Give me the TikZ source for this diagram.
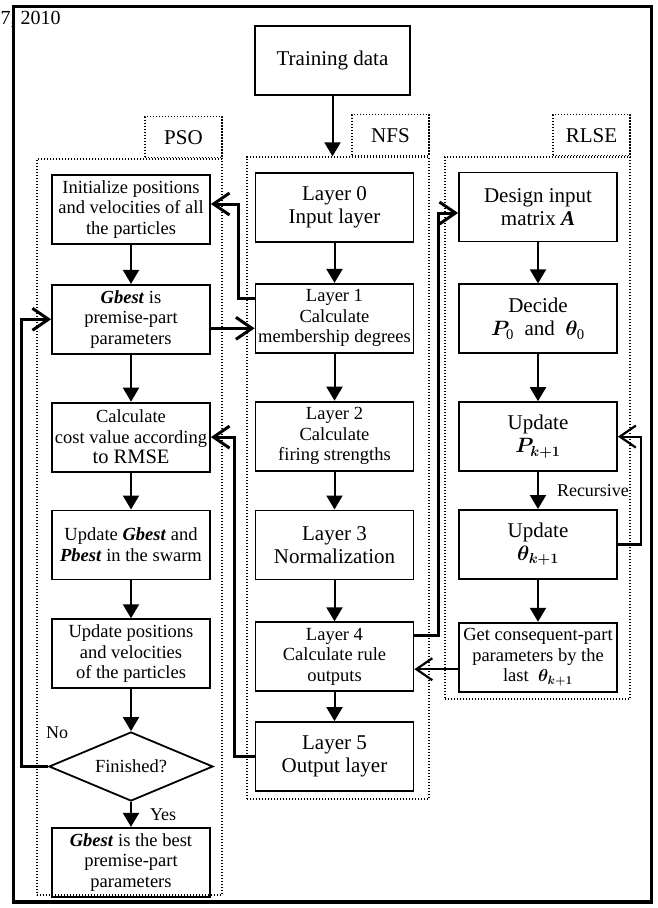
\documentclass[tikz,border=0pt]{standalone}
\usepackage{amsmath,bm}
\usepackage{fontspec}
\setmainfont{Liberation Serif}
\usepackage{tikz}
\usetikzlibrary{arrows.meta,positioning,shapes.geometric}

\begin{document}
\begin{tikzpicture}[
  x=1pt, y=-1pt,
  every node/.style={font=\fontsize{18.5}{20.5}\selectfont, align=center},
  box/.style={draw, line width=1.8pt, minimum width=158pt, minimum height=69pt, inner sep=2pt},
  bigbox/.style={box, font=\fontsize{21}{23}\selectfont},
  dec/.style={draw, diamond, aspect=2.4, line width=1.8pt, minimum width=164pt, minimum height=69pt, inner sep=0pt},
  grp/.style={draw, dash pattern=on 1.3pt off 1.7pt, line width=1.3pt, inner sep=0pt},
  tab/.style={grp, minimum width=77pt, minimum height=41pt, font=\fontsize{21}{23}\selectfont},
  lbl/.style={font=\fontsize{18}{20}\selectfont, inner sep=1pt},
  arr/.style={-{Triangle[length=14pt,width=16pt]}, line width=2pt},
  loopback/.style={-{Straight Barb[length=16pt,width=22pt]}, line width=3pt},
  thinback/.style={loopback, line width=2.2pt},
]
  \useasboundingbox (0,0) rectangle (657,908);
  \node[anchor=base west, inner sep=0pt, font=\fontsize{20}{22}\selectfont] (date) at (0.5,24) {7, 2010};
  \draw[line width=3.3pt] (13.5,6.5) rectangle (651.5,902);

  \node[bigbox, minimum width=155pt] (train) at (332.5,60.5) {Training data};

  % dotted groups with their tabs
  \node[grp, minimum width=185pt, minimum height=736pt] (psogrp) at (129.5,527) {};
  \node[tab, anchor=south east] (psotab) at (psogrp.north east) {PSO};
  \node[grp, minimum width=182pt, minimum height=642pt] (nfsgrp) at (338,478) {};
  \node[tab, anchor=south east] (nfstab) at (nfsgrp.north east) {NFS};
  \node[grp, minimum width=185pt, minimum height=542pt] (rlsegrp) at (537.5,428) {};
  \node[tab, anchor=south east] (rlsetab) at (rlsegrp.north east) {RLSE};

  % PSO
  \node[box] (init) at (131,209.5) {Initialize positions\\and velocities of all\\the particles};
  \node[box, below=39pt of init] (gbest) {\textbf{\textit{Gbest}} is\\premise-part\\parameters};
  \node[box, below=47pt of gbest] (cost) {Calculate\\cost value according\\{\fontsize{20.5}{22}\selectfont to RMSE}};
  \node[box, below=37pt of cost] (upd) {Update \textbf{\textit{Gbest}} and\\\textbf{\textit{Pbest}} in the swarm};
  \node[box, below=38pt of upd] (updpos) {Update positions\\and velocities\\of the particles};
  \node[dec, below=42pt of updpos] (fin) {Finished?};
  \node[box, below=25pt of fin] (best) {\textbf{\textit{Gbest}} is the best\\premise-part\\parameters};
  \node[lbl] (no) at ([xshift=9pt,yshift=34pt]fin.west) {No};

  % NFS
  \node[bigbox] (l0) at (334.5,207.5) {Layer 0\\Input layer};
  \node[box, below=40pt of l0] (l1) {Layer 1\\Calculate\\membership degrees};
  \node[box, below=47pt of l1] (l2) {Layer 2\\Calculate\\firing strengths};
  \node[bigbox, below=38pt of l2] (l3) {Layer 3\\Normalization};
  \node[box, below=41pt of l3] (l4) {Layer 4\\Calculate rule\\outputs};
  \node[bigbox, below=29pt of l4] (l5) {Layer 5\\Output layer};

  % RLSE
  \node[bigbox] (design) at (538,207) {Design input\\matrix \textbf{\textit{A}}};
  \node[bigbox, below=41pt of design] (decide) {Decide\\$\bm{P}_{\mathrm{0}}$\ \ and\ \ $\bm{\theta}_{\mathrm{0}}$};
  \node[bigbox, below=47pt of decide] (updp) {Update\\$\bm{P}_{\bm{k+1}}$};
  \node[bigbox, below=37pt of updp] (updt) {Update\\$\bm{\theta}_{\bm{k+1}}$};
  \node[box, below=42pt of updt] (getcons) {Get consequent-part\\parameters by the\\last\ \ $\bm{\theta}_{\bm{k+1}}$};

  \draw[arr] (train.south) -- (train.south |- nfsgrp.north);
  \draw[arr] (init) -- (gbest);
  \draw[arr] (gbest) -- (cost);
  \draw[arr] (cost) -- (upd);
  \draw[arr] (upd) -- (updpos);
  \draw[arr] (updpos) -- (fin);
  \draw[arr] (fin) -- node[lbl, right=17pt] {Yes} (best);
  \draw[arr] (l0) -- (l1);
  \draw[arr] (l1) -- (l2);
  \draw[arr] (l2) -- (l3);
  \draw[arr] (l3) -- (l4);
  \draw[arr] (l4) -- (l5);
  \draw[arr] (design) -- (decide);
  \draw[arr] (decide) -- (updp);
  \draw[arr] (updp) -- node[lbl, right=17pt] {Recursive} (updt);
  \draw[arr] (updt) -- (getcons);

  \draw[loopback] ([yshift=19.5pt]l1.west) -- ++(-16,0) |- ([yshift=5.5pt]init.east);
  \draw[loopback] ([yshift=-9pt]gbest.east) -- ([yshift=-9pt]gbest.east -| l1.west);
  \draw[loopback] (l5.west) -- ++(-20,0) |- (cost.east);
  \draw[loopback] (fin.west) -- ++(-27,0) |- (gbest.west);
  \draw[loopback] ([yshift=21pt]l4.east) -- ++(24,0) |- ([yshift=-6pt]design.west);
  \draw[thinback] (updt.east) -- ++(23,0) |- (updp.east);
  \draw[thinback] ([yshift=-12pt]getcons.west) -- ([yshift=-12pt]getcons.west -| l4.east);
\end{tikzpicture}
\end{document}
